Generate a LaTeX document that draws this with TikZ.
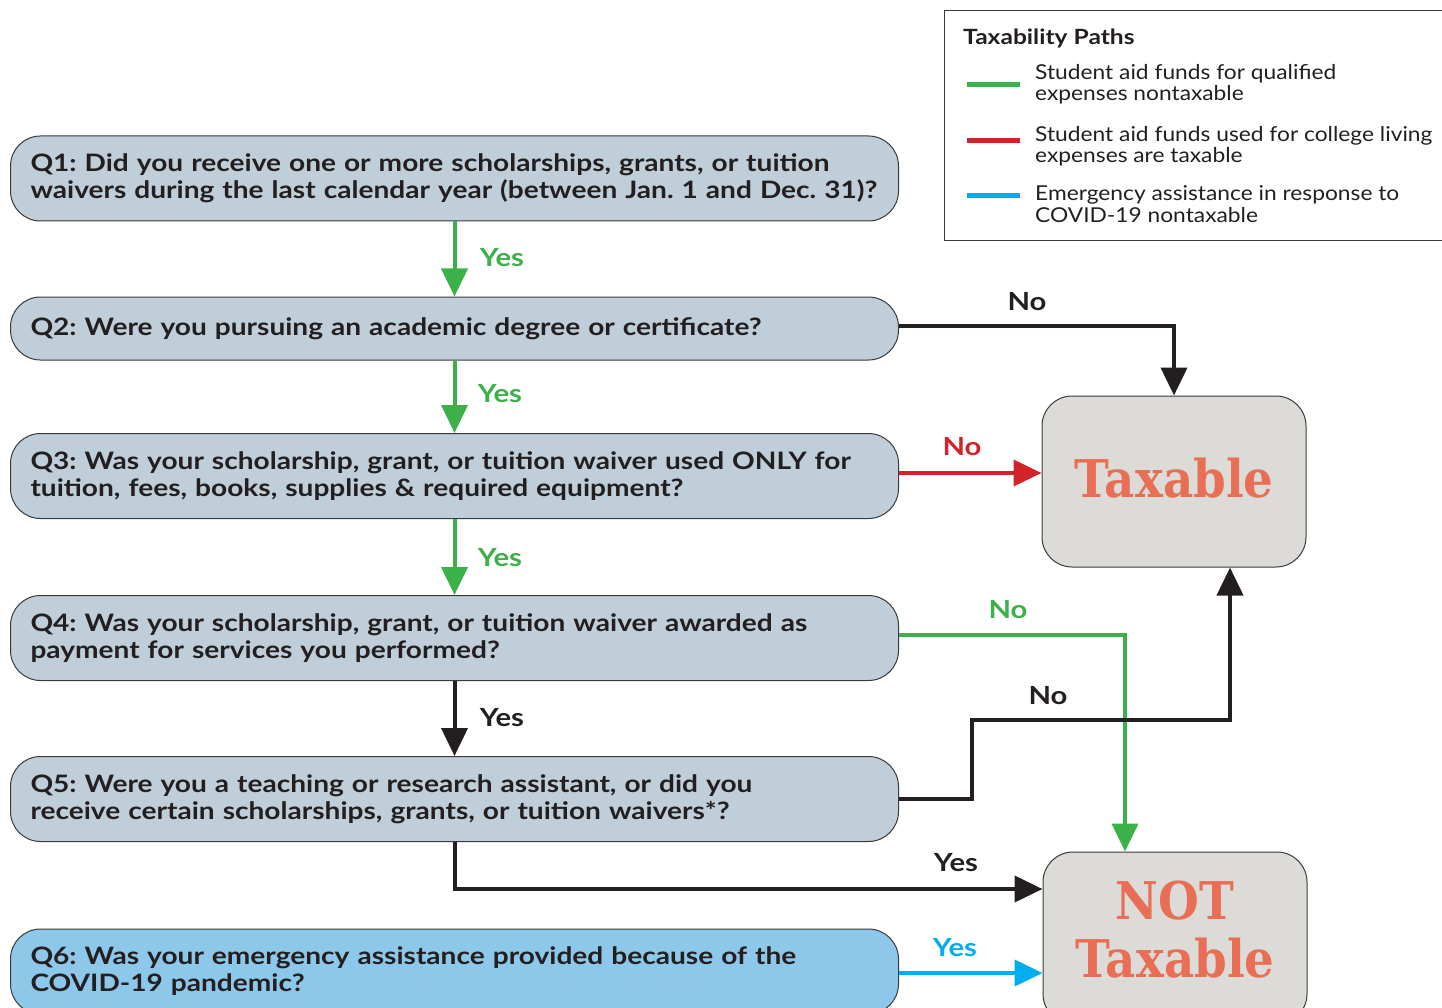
\documentclass[tikz,border=0pt]{standalone}
\usepackage{fontspec}
\setmainfont{Lato}
\newfontfamily\qfont{Lato}[FakeStretch=1.17]
\newfontfamily\lfont{Lato}[FakeStretch=1.11]
\newfontfamily\slab{DejaVu Serif}[FakeStretch=0.9]
\usetikzlibrary{arrows.meta}
\definecolor{qfill}{HTML}{BFCED8}
\definecolor{qsix}{HTML}{8DC8EA}
\definecolor{qborder}{HTML}{3A3A3A}
\definecolor{txt}{HTML}{231F20}
\definecolor{gfill}{HTML}{DCDBD7}
\definecolor{salmon}{HTML}{E86E55}
\definecolor{cgreen}{HTML}{3CB049}
\definecolor{cred}{HTML}{D2232A}
\definecolor{cblue}{HTML}{00AEEF}
\begin{document}
\frenchspacing
\begin{tikzpicture}[x=1pt,y=-1pt,
  qbox/.style={draw=qborder, line width=1pt, fill=qfill, rounded corners=30pt,
    minimum height=85pt, text width=848pt, inner xsep=20pt, inner ysep=0pt, align=left,
    font=\qfont\bfseries\fontsize{24}{27}\selectfont, text=txt, anchor=west},
  result/.style={draw=qborder, line width=1pt, fill=gfill, rounded corners=30pt,
    minimum width=264pt},
  restxt/.style={text=salmon, align=center, inner sep=0pt, font=\slab\bfseries\fontsize{52}{58}\selectfont},
  arr/.style={line width=4pt, -{Triangle[length=28pt,width=26pt]}},
  lab/.style={font=\qfont\bfseries\fontsize{25}{26}\selectfont},
  legtxt/.style={font=\lfont\fontsize{20.5}{21.5}\selectfont, text=txt, align=left, anchor=west, inner sep=0pt},
  legline/.style={line width=5pt}
]
\useasboundingbox (0,0) rectangle (1442,1008);
\clip (0,0) rectangle (1442,1008);

% legend
\node[draw=qborder, line width=1.2pt, minimum width=510pt, minimum height=230pt, anchor=north west, inner sep=0pt] (leg) at (944,10) {};
\node[font=\qfont\bfseries\fontsize{21}{22}\selectfont, text=txt, anchor=west, inner sep=0pt] (legt) at (963,38) {Taxability Paths};
\coordinate (lg1) at (967,85);
\coordinate (lg2) at (967,141);
\coordinate (lg3) at (967,196);
\draw[legline, cgreen] (lg1) -- ++(53,0);
\draw[legline, cred] (lg2) -- ++(53,0);
\draw[legline, cblue] (lg3) -- ++(53,0);
\node[legtxt] (lt1) at (1035,84) {Student aid funds for qualified\\expenses nontaxable};
\node[legtxt] (lt2) at (1035,146) {Student aid funds used for college living\\expenses are taxable};
\node[legtxt] (lt3) at (1035,204) {Emergency assistance in response to\\COVID-19 nontaxable};

% questions
\node[qbox] (Q1) at (10,178.5) {Q1: Did you receive one or more scholarships, grants, or tuition\\waivers during the last calendar year (between Jan. 1 and Dec. 31)?};
\node[qbox, minimum height=63pt] (Q2) at (10,328.5) {Q2: Were you pursuing an academic degree or certificate?};
\node[qbox] (Q3) at (10,476) {Q3: Was your scholarship, grant, or tuition waiver used ONLY for\\tuition, fees, books, supplies \& required equipment?};
\node[qbox] (Q4) at (10,638) {Q4: Was your scholarship, grant, or tuition waiver awarded as\\payment for services you performed?};
\node[qbox] (Q5) at (10,799) {Q5: Were you a teaching or research assistant, or did you\\receive certain scholarships, grants, or tuition waivers*?};
\node[qbox, fill=qsix] (Q6) at (10,971.5) {Q6: Was your emergency assistance provided because of the\\COVID-19 pandemic?};

% results
\node[result, minimum height=171pt] (tax) at (1174,481.5) {};
\node[restxt] (taxt) at (1174,478) {Taxable};
\node[result, minimum height=172pt] (nt) at (1175,938) {};
\node[restxt] (ntt) at (1175,930) {NOT\\Taxable};

% connectors
\draw[arr, cgreen] (Q1.south) -- (Q2.north);
\draw[arr, cgreen] (Q2.south) -- (Q3.north);
\draw[arr, cgreen] (Q3.south) -- (Q4.north);
\draw[arr, txt] (Q4.south) -- (Q5.north);
\draw[arr, txt] ([yshift=2.5pt]Q2.east) -| (tax.north);
\draw[arr, cred] ([yshift=3pt]Q3.east) -- ([yshift=3pt]Q3.east -| tax.west);
\draw[arr, cgreen] ([yshift=3pt]Q4.east) -| ([xshift=-50pt]nt.north);
\draw[arr, txt] (Q5.east) -- ++(73,0) -- ++(0,-79) -| ([xshift=56pt]tax.south);
\draw[arr, txt] (Q5.south) |- ([yshift=49pt]nt.west);
\draw[arr, cblue] ([yshift=-1.5pt]Q6.east) -- ([yshift=-1.5pt]Q6.east -| nt.west);

% labels
\node[lab, text=cgreen] (y1) at (502,258) {Yes};
\node[lab, text=cgreen] (y2) at (500,394) {Yes};
\node[lab, text=cgreen] (y3) at (500,558) {Yes};
\node[lab, text=txt] (y4) at (502,718) {Yes};
\node[lab, text=txt] (n2) at (1027,302) {No};
\node[lab, text=cred] (n3) at (962,447) {No};
\node[lab, text=cgreen] (n4) at (1008,610) {No};
\node[lab, text=txt] (n5) at (1048,696) {No};
\node[lab, text=txt] (y5) at (956,863) {Yes};
\node[lab, text=cblue] (y6) at (955,948) {Yes};
\end{tikzpicture}
\end{document}
